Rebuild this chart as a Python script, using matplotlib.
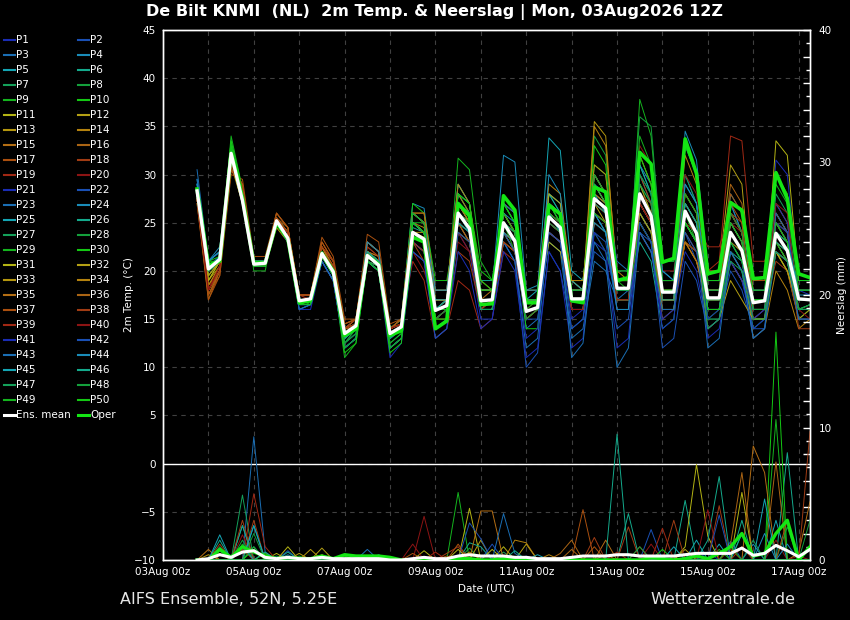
"""Ensemble plume: 2m temperature and precipitation for De Bilt (AIFS ensemble)."""

import matplotlib

matplotlib.use("Agg")
import matplotlib.dates as mdates
import matplotlib.pyplot as plt
import numpy as np
import pandas as pd
from matplotlib.lines import Line2D
from matplotlib.ticker import FuncFormatter, MultipleLocator

# 6-hourly steps, 03Aug 18z .. 17Aug 06z
TIMES = pd.date_range("2026-08-03 18:00", "2026-08-17 06:00", freq="6h")

# member colours cycle every 20 members
MEMBER_COLORS = [
    "#1a2db4", "#1a50b4", "#1a6eb4", "#1a8cb9", "#14a5b4",
    "#14aa8c", "#14a05a", "#14a03c", "#14b41e", "#14c814",
    "#b4b414", "#b4a014", "#b4960f", "#b4820f", "#b46e14",
    "#aa6414", "#aa500f", "#a03c14", "#a02814", "#8c1414",
]
OPER_COLOR = "#14e614"

# temperature per member: 03/18 | 04 (00 06 12 18) | 05 | ... | 16 | 17 (00 06)
MEMBER_TEMP = [
    "28.5 | 20 21 32 27 | 21 21 25 23 | 17 17 22 20 | 13 14 21.5 20.5 | 13 14 24 23 | 16 17 27 25 | 17 17 24 22 | 15 16 24 23 | 16 16 23 22 | 17 17 26 24 | 16 16 22 20 | 14 15 21 19 | 15 16 31.5 30 | 18 17.5",
    "28 | 20.5 21 32.5 28 | 21 21 25.5 23.5 | 17 17 21.5 19.5 | 12.5 14 21 20 | 13 14 23 22 | 15 16 25 23 | 16 17 23 21 | 10 11.5 22 20 | 14 15 26 25 | 19 19 30 27 | 18 18 24 21 | 16 16 21 19 | 15 15 25 23 | 16 16.5",
    "30.5 | 21 22 32 27 | 20.5 20.5 25 23 | 16 16.5 21 19 | 13 14 21 20.5 | 13 14 25 24 | 17 17 28 26 | 18 18 26 24 | 14 15 23 22 | 13 14 21 20 | 17 18 25 23 | 19 19 30 27 | 18 18 27 24 | 16 16 23 21 | 16 16",
    "29.5 | 21 22.5 31.5 27 | 21 21 25 23 | 17.5 17.5 22 20 | 14 15 22 21 | 14 15 27 26.5 | 18 18 29 27 | 18 18 32 31.3 | 18 18.5 27 25 | 16 16 26 25 | 18 18 24 22 | 17 17 34.5 31.5 | 20 20 27 24 | 18 18 25 23 | 17.5 17.5",
    "28 | 20 21 32 27.5 | 21 21 25.5 24 | 17 17 22 20 | 14 14.5 22 21 | 14 15 25 24 | 17 17 27 25 | 17 17 26 24 | 17 18 33.8 32.5 | 20 19 30 28 | 18 18 25 23 | 17 17 27 25 | 18 18 28 26 | 17 17 23 22 | 16 16",
    "28 | 19.5 21 32.5 28 | 21 21 25 23.5 | 17 17 22 20 | 13.5 14.5 23 22 | 14 15 24.5 24 | 16 17 29 27 | 19 19 27 25 | 17 17 27 26 | 18 18 25 24 | 17 17 23 21 | 14 15 26 24 | 16 16 22 21 | 14 15 25 24 | 16 16.5",
    "28 | 20 21 33 28 | 21 21 25 23.5 | 17 17 22 20 | 13 14 22 21 | 13 14 25 24 | 16 17 28 26 | 17 17 25 23 | 16 16 28 27 | 18 18 26 25 | 19 19 31 28 | 19 19 30 27 | 19 19 24 22 | 17 17 22 21 | 17 17",
    "28.5 | 20.5 21.5 33 28 | 21 21 25 23.5 | 17 17 22 20 | 12 13 22 21 | 12 13 24 23 | 15 16 27 25 | 16 16 27 25 | 16 16 28 26 | 18 18 34 32 | 20 20 29 26 | 18 18 25 23 | 17 17 22 20 | 16 16 23 21 | 15 16",
    "28 | 20 21 34 28.5 | 20 20 25.5 24 | 17 16.5 21.5 19.5 | 11 12.5 21 20 | 12 13 25 25 | 17 17 31.7 30.5 | 21 19 25 22 | 15 16 26 24 | 17 17 24 22 | 18 18 37.8 34 | 21 21 26 23 | 16 16 23 21 | 15 15 22 20 | 16 16",
    "28.5 | 20.5 21 33 28 | 21 21 25 24 | 17 17 22 20 | 13 14 22 21 | 14 15 27 26 | 19 19 26 24 | 16 16 24 23 | 14 14 26 25 | 18 18 30 28 | 19 19 29 27 | 17 17 28 26 | 15 16 24 22 | 17 17 26 24 | 18 18",
    "28 | 19 21 31.5 27 | 21 21 25 23 | 17 17 22 20 | 13.5 14.5 21 20.5 | 14 14.5 24 23 | 16 17 26 24 | 17 17 24 23 | 16 16 23 22 | 17 17 29 27 | 18 18 27 25 | 18 18 25 23 | 17 17 24 22 | 17 17 33.5 32 | 19 19",
    "28 | 19.5 21 32 27.5 | 20.5 21 25 23.5 | 17 17 22 20 | 13 14 21 20 | 13.5 14 23 22 | 15 16 25 24 | 18 18 26 24 | 17 17 24 23 | 19 18 27 26 | 17 17 25 23 | 17 17 23 22 | 20 20 31 29 | 16 16 22 20 | 15 16",
    "28 | 19 20.5 31 27 | 21 20.5 24.5 23 | 16.5 17 21 19 | 13.5 14 22 21 | 14 14.5 24 23.5 | 16 16 24 23 | 16 17 23 22 | 15 16 25 24 | 18 18 35.5 34 | 19 19 28 26 | 18 18 26 24 | 17 17 22 20 | 15 15 23 21 | 17 17",
    "27.5 | 18.5 20 31 28 | 21 20.5 25 24 | 17 17 22.5 20 | 14 14 22 21 | 14 14.5 25 24.5 | 18 18 28 26 | 17 17 25 23 | 16 16 27 26 | 17 17 35 33 | 20 19 26 24 | 19 19 32 29 | 18 18 25 23 | 13 14 20 18 | 14 15",
    "27.5 | 17 20 30.5 28.5 | 20.5 20.5 25 24 | 17 17 22 20.5 | 14 14.5 22 21 | 14 14.5 24 23 | 16 16 25 23 | 18 18 26 24 | 16 16 24 23 | 17 17 27 26 | 16 16 24 22 | 17 17 23 21 | 16 16 21 19 | 17 17 27 25 | 17 17",
    "27.5 | 17.5 20 31 29 | 21 21 25.5 24.5 | 17.5 17.5 22.5 21 | 14 15 23 22 | 13.5 14 26 25 | 16 17 27 26 | 17 17 24 22 | 16 16 26 25 | 19 18 30 28 | 18 18 26 24 | 15 16 24 22 | 19 19 29 27 | 18 18 22 20 | 16 16",
    "27 | 17 19.5 30 29.5 | 21.5 21.5 26 24.5 | 17.5 17.5 23.5 21.5 | 15 15 23.8 23 | 14.5 15 25 24 | 17 17 26 25 | 18 18 25 24 | 17 17 25 24 | 17 17 28 27 | 18 18 30 27 | 16 16 25 23 | 17 17 28 26 | 19 19 26 24 | 18 18",
    "27.5 | 18 20 31 28.5 | 21 21 25.5 24 | 17.5 17.5 23 21 | 14.5 15 23 22 | 14 14.5 26 25 | 16 16 26 24 | 17 17 24 23 | 17 17 26 25 | 16 16 25 24 | 18 18 28 26 | 18 18 23 22 | 18 18 26 25 | 16 16 21 20 | 15 15",
    "27.5 | 18 20.5 31 28 | 21 21 25 24 | 17.5 17 22.5 21 | 14 15 22.5 21.5 | 14 14.5 21 19 | 13 14 19 18 | 14 15 22 21 | 16 17 25 24 | 17 17 28 27 | 18 18 27 25 | 17 17 25 24 | 20 21 34 33.5 | 21 21 24 22 | 17 17",
    "27.5 | 18.5 20.5 31.5 28 | 21 21 25 23.5 | 17 17 22 20 | 14 14.5 22 21 | 14 14.5 22 20 | 16 16 23 22 | 16 17 26 24 | 15 16 24 23 | 17 17 26 25 | 19 19 33 31 | 20 20 28 26 | 16 16 25 24 | 17 17 30 28 | 18 18",
    "28 | 20 21 32 27.5 | 21 21 25 23 | 16.5 16.5 21 19 | 12 13 21 20 | 12 13 23 22 | 14 15 24 22 | 15 15 23 21 | 13 14 24 23 | 15 16 26 24 | 16 16 24 22 | 15 16 26 24 | 13 14 21 19 | 14 15 27 25 | 17 17",
    "28 | 20.5 21.5 32 27 | 21 21 25 23.5 | 16.5 17 21.5 19.5 | 12.5 13.5 21 20 | 13 14 23 22 | 15 16 26 24 | 16 16 25 23 | 16 16 28 27 | 17 17 24 23 | 16 16 27 25 | 17 17 24 22 | 15 15 20 18 | 14 14 24 22 | 15 15",
    "29 | 21 22 32 27 | 21 21 25 23 | 16 16.5 21 19 | 12 13 21 20 | 12 13 24 23 | 15 16 26 25 | 17 17 23 21 | 12 13 24 23 | 17 17 29 28 | 21 20 27 25 | 16 16 25 23 | 17 17 24 22 | 18 18 24 23 | 17 17",
    "29 | 21 22 32.5 27.5 | 21 21 25 23.5 | 17 17 22 20 | 13 14 22 21 | 13 14 25 24 | 16 17 27 26 | 17 17 27 26 | 17 17 26 25 | 16 16 25 24 | 17 17 31 29 | 20 19 33 30 | 19 19 26 24 | 17 17 24 22 | 19 19",
    "28.5 | 20 21.5 32 27.5 | 20.5 20.5 25 23 | 17 17 21.5 19.5 | 13 14 23 22 | 13.5 14 24 23 | 16 16 28 27 | 18 18 25 23 | 17 17 28 26 | 19 18 26 24 | 19 19 27 25 | 17 17 29 27 | 16 16 24 22 | 17 17 25 23 | 17 17",
    "28 | 20 21 32 27.5 | 21 21 25 23.5 | 17 17 22 20 | 13.5 14.5 22 21 | 13 14 25 24 | 16 17 27 26 | 18 18 25 23 | 17 17 25 24 | 18 18 28 27 | 18 18 26 24 | 17 17 25 23 | 17 17 23 21 | 16 16 24 22 | 16 16",
    "28 | 20 21 32.5 28 | 21 21 25 23.5 | 17 17 22 20 | 13 14 21 20.5 | 13 14 24 23 | 15 16 25 24 | 16 16 24 22 | 16 16 26 25 | 17 17 30 28 | 18 18 27 25 | 18 18 28 26 | 17 17 26 24 | 16 16 28 26 | 17 17",
    "28 | 20 21 33 28 | 21 21 25 23.5 | 17 17 22 20 | 13 14 21 20 | 13 14 24 23 | 16 16 26 24 | 16 16 25 24 | 16 16 25 24 | 18 18 31 30 | 20 20 36 35 | 21 21 26 24 | 17 17 24 22 | 17 17 25 23 | 18 18",
    "28 | 20.5 21 33.5 28 | 21 21 25 23.5 | 17 17 22 20 | 12.5 14 22 21 | 13 14 24 23 | 15 15 24 23 | 16 16 25 24 | 16 17 27 26 | 18 18 26 25 | 17 17 25 23 | 16 16 25 23 | 15 15 23 22 | 16 16 23 21 | 16 16.5",
    "28.5 | 21 21.5 33.5 28.5 | 20.5 20.5 25 23.5 | 17 17 22 20 | 12 13 22 21 | 12.5 13.5 25 24 | 17 17 28 27 | 20 19 27 25 | 18 18 27 25 | 19 19 29 27 | 18 18 28 26 | 19 19 33 30 | 19 19 26 24 | 18 18 30 28 | 19 19",
    "28 | 19 21 31.5 27 | 21 21 25 23.5 | 17 17 22 20 | 13.5 14.5 22 21 | 14 14.5 26 25 | 17 17 27 25 | 17 17 26 24 | 17 17 28 27 | 19 19 29 27 | 18 18 32 29 | 18 18 27 25 | 18 18 26 24 | 17 17 22 20 | 16 16",
    "28 | 19.5 21 31.5 27.5 | 21 21 25.5 24 | 17 17 22 20.5 | 13.5 14.5 22 21 | 14 14.5 24 24 | 17 17 26 25 | 17 17 24 23 | 16 16 26 25 | 17 17 27 25 | 18 18 26 24 | 18 18 25 23 | 14 15 19 17 | 15 15 22 21 | 16 16",
    "27.5 | 18.5 20.5 31 27.5 | 21 21 25 24 | 17 17 22 20 | 14 14.5 22 21 | 14 14.5 25 24 | 17 17 26 25 | 18 18 24 23 | 17 17 27 26 | 18 18 31 30 | 19 19 29 26 | 17 17 23 21 | 17 17 26 24 | 16 16 26 24 | 17 17",
    "27.5 | 18 20 31 28 | 21 21 25.5 24 | 17.5 17.5 22.5 20.5 | 14 14.5 22 21.5 | 14 14.5 26 26 | 18 18 29 27 | 19 18 27 26 | 18 18 29 28 | 19 19 28 27 | 19 19 28 26 | 18 18 26 24 | 18 18 25 23 | 17 17 24 22 | 17 17",
    "27.5 | 18 20 31 28.5 | 21 21 25.5 24 | 17 17 22.5 20.5 | 14 15 22 21.5 | 14 15 26 26 | 17 17 27 25 | 17 18 24 22 | 16 16 27 26 | 18 18 30 28 | 19 19 27 25 | 16 16 23 21 | 17 17 23 22 | 16 16 23 22 | 17 17",
    "27.5 | 17.5 20 30.5 28.5 | 21 21 26 24.5 | 17.5 17.5 23 21 | 14.5 15 23 22 | 14 15 26 25 | 17 17 25 23 | 16 17 25 23 | 16 16 25 24 | 17 17 27 26 | 18 18 27 25 | 17 17 26 24 | 17 17 25 23 | 17 17 24 23 | 17 17",
    "27 | 17.5 19.5 30.5 29 | 21 21 26 24.5 | 17.5 17.5 23 21 | 14.5 15 23 22 | 14 15 25 24 | 16 16 24 23 | 16 16 23 22 | 15 16 25 24 | 16 16 26 25 | 17 17 27 25 | 17 17 28 26 | 18 18 27 25 | 15 16 22 21 | 16 16",
    "27.5 | 18 20 31 28.5 | 21 21 25.5 24 | 17.5 17.5 22.5 21 | 14 15 22.5 21.5 | 14 14.5 23 21 | 15 15 22 21 | 16 16 23 22 | 16 16 24 23 | 17 17 26 25 | 18 18 28 27 | 18 18 27 25 | 17 17 26 24 | 16 16 25 24 | 14 14",
    "27.5 | 18 20.5 31 28 | 21 21 25 24 | 17 17 22 20.5 | 14 14.5 22 21 | 14 14.5 23 22 | 15 16 25 24 | 16 17 25 24 | 16 16 26 25 | 18 18 27 26 | 19 19 27 25 | 19 19 27 25 | 22.5 22.5 26 24 | 17 17 25 23 | 16 16",
    "27.5 | 18 20.5 31.5 28 | 21 21 25 23.5 | 17 17 22 20 | 13.5 14.5 22 21 | 14 14.5 22 21 | 15 16 24 22 | 17 17 24 23 | 16 16 25 24 | 16 16 27 26 | 17 17 27 25 | 18 18 30 28 | 20 20 26 24 | 16 16 27 26 | 16 15",
    "28 | 20 21 32 27 | 21 21 25 23 | 16 16 21 19 | 12 13 21 20 | 11 12.5 22 21 | 13 14 22 20 | 14 15 22 20 | 11 12 22 20 | 12 13 24 22 | 12 13 25 23 | 14 15 26 24 | 15 16 23 21 | 15 16 25 24 | 17 17",
    "28 | 20 21 32 27.5 | 21 21 25 23.5 | 16.5 16.5 21 19 | 12 13 21 20 | 12 13 22 21 | 13 14 24 23 | 16 16 24 22 | 15 15 24 23 | 14 15 22 21 | 14 15 24 23 | 12 13 21 19 | 14 15 22 20 | 13 14 26 24 | 16 16",
    "29.5 | 21 22 32 27.5 | 21 21 25 23 | 16 16.5 21 19 | 12 13 21 20 | 12 13 25 24 | 16 16 25 24 | 17 17 27 26 | 18 18 26 24 | 11 12.5 23 21 | 10 12 24 22 | 16 16 25 23 | 12 13 22 20 | 13 14 22 21 | 15 15",
    "29 | 21 22 32 27.5 | 21 21 25 23.5 | 17 17 22 20 | 13.5 14.5 23 22 | 13 14 26 25 | 18 18 27 26 | 17 17 26 25 | 16 16 30 28 | 17 17 26 24 | 16 16 30 28 | 20 19 29 27 | 18 18 24 22 | 16 16 24 23 | 17 17",
    "28.5 | 20 21.5 32 27 | 21 21 25 23.5 | 17 17 22 20 | 13.5 14 22 21 | 13.5 14 25 24 | 17 17 26 24 | 16 16 24 23 | 16 16 27 26 | 18 18 28 26 | 18 18 31 28 | 19 19 27 25 | 16 16 24 22 | 17 17 24 23 | 18 18",
    "28 | 20 21 32 27.5 | 21 21 25 23.5 | 17 17 22 20 | 13 14 22 21 | 13.5 14 24 23 | 16 16 25 24 | 16 16 25 24 | 17 17 26 24 | 17 17 27 26 | 18 18 28 26 | 17 17 27 25 | 17 17 25 23 | 16 16 23 22 | 16 16",
    "28 | 20 21 32.5 28 | 21 21 25 23.5 | 17 17 22 20 | 12.5 13.5 21 20 | 12 13 24 23 | 14 15 26 25 | 16 16 25 24 | 16 16 25 24 | 17 17 29 27 | 18 18 29 27 | 18 18 26 24 | 14 15 21 20 | 15 15 22 21 | 16 16",
    "28 | 20 21 33 28 | 21 21 25 23.5 | 17 17 22 20 | 12.5 13.5 21.5 20.5 | 12.5 13.5 25 24 | 15 16 27 26 | 17 17 25 23 | 15 16 26 25 | 17 17 30 28 | 18 18 30 28 | 18 18 25 23 | 17 17 26 24 | 16 16 24 23 | 16 16.5",
    "28 | 20 21 33 28 | 20.5 20.5 25 23.5 | 17 17 22 20 | 12 13 21.5 20.5 | 12 13 26 25 | 16 16 27 26 | 18 18 26 24 | 17 17 27 26 | 18 18 26 25 | 19 18 34 31 | 19 19 28 26 | 18 18 25 23 | 17 17 29 27 | 18 18",
    "28.5 | 21 21 33 28 | 21 21 25 23.5 | 16.5 16.5 21.5 19.5 | 11.5 12.5 21 20 | 11.5 12.5 25 24 | 15 15 28 27 | 19 18 27 25 | 16 16 27 25 | 17 17 33 31 | 19 19 32 29 | 18 18 25 23 | 16 16 23 21 | 17 17 25 23 | 17 17",
]

MEAN_TEMP = (
    "28.3 | 20.2 21.2 32.2 27.3 | 20.7 20.8 25.2 23.4 | 16.9 17.1 21.8 19.9 | 13.5 14.3 21.6 20.6 "
    "| 13.5 14.2 24.0 23.3 | 15.9 16.4 26.0 24.4 | 16.9 17.0 25.0 23.1 | 15.8 16.2 25.6 24.5 "
    "| 17.1 17.1 27.5 26.5 | 18.2 18.2 28.0 25.7 | 17.8 17.8 26.2 23.9 | 17.2 17.2 24.0 22.1 "
    "| 16.7 16.9 23.9 22.1 | 17.1 17.0"
)
OPER_TEMP = (
    "28.5 | 20.6 21.0 32.2 27.6 | 20.8 20.8 25.0 23.3 | 16.7 16.9 21.8 20.0 | 13.3 14.0 21.6 20.7 "
    "| 13.3 13.8 23.5 23.0 | 14.0 14.8 27.0 25.7 | 16.5 16.6 27.8 26.3 | 16.7 16.7 26.8 25.9 "
    "| 16.9 16.7 28.7 28.2 | 19.0 19.3 32.3 31.1 | 20.9 21.3 33.7 30.1 | 19.7 20.0 27.1 26.3 "
    "| 19.2 19.3 30.2 27.5 | 19.7 19.3"
)

# precipitation (mm per 6h): (member, step index, mm); all other steps are dry
PRECIP_EVENTS = [
    (15, 1, 0.8), (13, 1, 0.4), (25, 2, 1.9), (6, 2, 1.5), (18, 2, 1.2), (8, 2, 1.0),
    (11, 2, 0.5), (27, 2, 0.7), (45, 2, 0.9),
    (7, 4, 4.9), (5, 4, 2.6), (38, 4, 3.0), (26, 4, 2.6), (28, 4, 1.5), (9, 4, 1.2),
    (17, 4, 0.8), (44, 4, 1.0), (20, 4, 1.9),
    (3, 5, 9.3), (19, 5, 5.0), (45, 5, 2.6), (48, 5, 2.0), (18, 5, 3.0), (10, 5, 1.0),
    (25, 5, 2.6), (2, 5, 1.0), (30, 5, 0.8),
    (3, 6, 0.6), (19, 6, 1.0), (12, 6, 0.5), (29, 6, 0.5), (46, 6, 0.6),
    (11, 7, 0.5), (7, 7, 0.3), (31, 8, 1.0), (2, 8, 0.7), (6, 8, 0.6), (43, 8, 0.4),
    (12, 9, 0.5), (9, 9, 0.3), (13, 10, 0.8), (32, 11, 0.9), (14, 11, 0.4),
    (30, 13, 0.3), (10, 13, 0.3), (23, 15, 0.8), (43, 16, 0.4), (3, 16, 0.3), (49, 15, 0.3),
    (37, 19, 0.5), (40, 19, 1.2), (20, 20, 3.3), (31, 20, 0.7), (39, 21, 0.6), (38, 22, 0.5),
    (16, 22, 0.3),
    (9, 23, 5.1), (17, 23, 1.2), (38, 23, 1.0), (31, 23, 0.8), (11, 24, 3.9), (22, 24, 2.8),
    (26, 24, 1.3), (8, 24, 0.9), (13, 24, 0.6),
    (35, 25, 3.7), (26, 25, 1.0), (12, 25, 1.5), (22, 25, 1.6), (35, 26, 3.7), (42, 26, 1.2),
    (31, 26, 0.8), (43, 27, 3.5), (11, 27, 1.0), (7, 27, 0.6), (43, 28, 0.5), (14, 28, 1.5),
    (46, 28, 0.7), (14, 29, 1.3), (12, 29, 1.2), (1, 29, 0.3),
    (25, 30, 0.4), (34, 31, 0.4), (16, 32, 0.5), (16, 33, 1.5), (17, 34, 3.8), (36, 33, 0.8),
    (18, 35, 1.7), (37, 35, 1.0), (15, 36, 1.5), (16, 36, 0.4),
    (46, 37, 9.5), (39, 37, 0.6), (26, 38, 3.5), (38, 38, 2.5), (18, 39, 1.0), (48, 39, 1.0),
    (2, 40, 2.3), (20, 40, 1.2), (19, 41, 2.4), (30, 41, 0.8),
    (18, 42, 3.0), (25, 42, 1.0), (6, 43, 4.5), (11, 43, 1.0), (12, 43, 0.8), (11, 44, 7.2),
    (5, 44, 1.5), (11, 45, 1.8), (40, 45, 3.8), (26, 45, 1.5), (1, 45, 0.6),
    (26, 46, 6.3), (18, 46, 4.1), (42, 46, 3.4), (5, 46, 1.2), (29, 46, 0.8), (49, 47, 1.0),
    (2, 47, 1.4), (19, 47, 0.8), (16, 47, 1.2),
    (16, 48, 6.6), (31, 48, 5.1), (9, 48, 2.0), (26, 48, 3.0), (25, 48, 2.0), (38, 48, 1.0),
    (35, 49, 8.6), (4, 49, 1.2), (47, 49, 1.5),
    (35, 50, 6.6), (45, 50, 4.6), (24, 50, 2.0), (10, 51, 17.2), (29, 51, 10.6), (16, 51, 7.4),
    (25, 51, 3.0), (20, 51, 1.5),
    (6, 52, 8.1), (28, 52, 2.5), (37, 52, 3.0), (44, 52, 1.2), (15, 53, 0.5), (40, 53, 0.3),
    (18, 54, 9.7), (15, 54, 4.4), (8, 54, 3.0), (46, 54, 1.0),
]
MEAN_PRECIP = [
    0, 0.1, 0.4, 0.2, 0.6, 0.7, 0.2, 0.1, 0.2, 0.1,
    0.1, 0.2, 0.1, 0.1, 0.1, 0.1, 0.1, 0, 0, 0.1,
    0.2, 0.1, 0.1, 0.3, 0.4, 0.3, 0.3, 0.3, 0.2, 0.2,
    0.1, 0.1, 0.1, 0.2, 0.3, 0.3, 0.3, 0.4, 0.4, 0.3,
    0.3, 0.3, 0.3, 0.4, 0.5, 0.5, 0.5, 0.5, 0.9, 0.35,
    0.5, 1.1, 0.7, 0.25, 0.8,
]
OPER_PRECIP = [
    0, 0, 0.8, 0.2, 1.0, 0.6, 0.3, 0.1, 0.2, 0.1,
    0.1, 0.3, 0.1, 0.4, 0.3, 0.3, 0.3, 0.2, 0, 0,
    0.1, 0, 0, 0.1, 0.1, 0, 0, 0.1, 0, 0,
    0, 0, 0, 0, 0, 0, 0, 0, 0, 0,
    0.2, 0.1, 0, 0.1, 0.3, 0.1, 0.5, 1.0, 2.0, 0.3,
    0.5, 2.0, 3.0, 0, 1.0,
]

TITLE = "De Bilt KNMI  (NL)  2m Temp. & Neerslag | Mon, 03Aug2026 12Z"
W, H = 850, 620
GRID = "#404040"


def _series(text):
    vals = np.array(text.replace("|", " ").split(), dtype=float)
    assert len(vals) == len(TIMES), (len(vals), text[:30])
    return vals


def _px(x, y):
    return x / W, 1 - y / H


temps = [_series(s) for s in MEMBER_TEMP]
precip = np.zeros((len(MEMBER_TEMP), len(TIMES)))
for member, step, mm in PRECIP_EVENTS:
    precip[member - 1, step] = mm

fig = plt.figure(figsize=(W / 100, H / 100), dpi=100, facecolor="black")
ax = fig.add_axes([163 / W, 60 / H, 647 / W, 530 / H])
ax.set_facecolor("black")
ax2 = ax.twinx()

for i, vals in enumerate(temps):
    color = MEMBER_COLORS[i % 20]
    ax.plot(TIMES, vals, color=color, lw=0.7, zorder=2)
    ax2.plot(TIMES, precip[i], color=color, lw=0.7, zorder=2)

ax.plot(TIMES, _series(OPER_TEMP), color=OPER_COLOR, lw=2.6, zorder=3)
ax.plot(TIMES, _series(MEAN_TEMP), color="white", lw=2.4, zorder=4)
ax2.plot(TIMES, OPER_PRECIP, color=OPER_COLOR, lw=2.4, zorder=3)
ax2.plot(TIMES, MEAN_PRECIP, color="white", lw=2.2, zorder=4)

ax.axhline(0, color="white", lw=1, zorder=1)

ax.set_xlim(pd.Timestamp("2026-08-03 00:00"), pd.Timestamp("2026-08-17 06:00"))
ax.set_ylim(-10, 45)
ax2.set_ylim(0, 40)

ax.xaxis.set_major_locator(mdates.DayLocator(bymonthday=[3, 5, 7, 9, 11, 13, 15, 17]))
ax.xaxis.set_minor_locator(mdates.DayLocator())
ax.xaxis.set_major_formatter(mdates.DateFormatter("%d%b %Hz"))
ax.yaxis.set_major_locator(MultipleLocator(5))
ax.grid(which="both", axis="x", color=GRID, ls=(0, (4, 4)), lw=0.8)
ax.grid(which="major", axis="y", color=GRID, ls=(0, (4, 4)), lw=0.8)
ax.set_axisbelow(True)

ax.tick_params(axis="both", which="both", length=0, colors="white", labelsize=7.5, pad=5)
ax2.yaxis.set_major_locator(MultipleLocator(2))
ax2.yaxis.set_minor_locator(MultipleLocator(1))
ax2.yaxis.set_major_formatter(FuncFormatter(lambda v, _: f"{v:.0f}" if v % 10 == 0 else ""))
ax2.tick_params(axis="y", which="major", direction="in", length=5, width=1,
                colors="white", labelsize=7.5, pad=6)
ax2.tick_params(axis="y", which="minor", direction="in", length=3, width=1, colors="white")

for a in (ax, ax2):
    for spine in a.spines.values():
        spine.set_color("white")
        spine.set_linewidth(1)

ax.set_ylabel("2m Temp. (°C)", color="white", fontsize=7.5, labelpad=0)
ax2.set_ylabel("Neerslag (mm)", color="white", fontsize=7.5, labelpad=4)
ax.set_xlabel("Date (UTC)", color="white", fontsize=7.5, labelpad=5)

fig.text(*_px(435, 12), TITLE, color="white", fontsize=11.5, fontweight="bold",
         ha="center", va="center")
fig.text(*_px(120, 599), "AIFS Ensemble, 52N, 5.25E", color="#e6e6e6", fontsize=11.5,
         ha="left", va="center")
fig.text(*_px(795, 599), "Wetterzentrale.de", color="#e6e6e6", fontsize=11.5,
         ha="right", va="center")

# legend, two columns, drawn row by row
labels = [f"P{i + 1}" for i in range(len(MEMBER_TEMP))] + ["Ens. mean", "Oper"]
colors = [MEMBER_COLORS[i % 20] for i in range(len(MEMBER_TEMP))] + ["white", OPER_COLOR]
widths = [1.5] * len(MEMBER_TEMP) + [2.2, 2.2]
for k, (lab, col, lw) in enumerate(zip(labels, colors, widths)):
    row, colnum = divmod(k, 2)
    y = 40 + row * 15
    x0 = 4 if colnum == 0 else 78
    fig.add_artist(Line2D([x0 / W, (x0 + 11) / W], [1 - y / H] * 2, color=col, lw=lw))
    fig.text(*_px(x0 + 12, y), lab, color="white", fontsize=7.5, ha="left", va="center")

fig.savefig("out.png", dpi=100, facecolor="black")
